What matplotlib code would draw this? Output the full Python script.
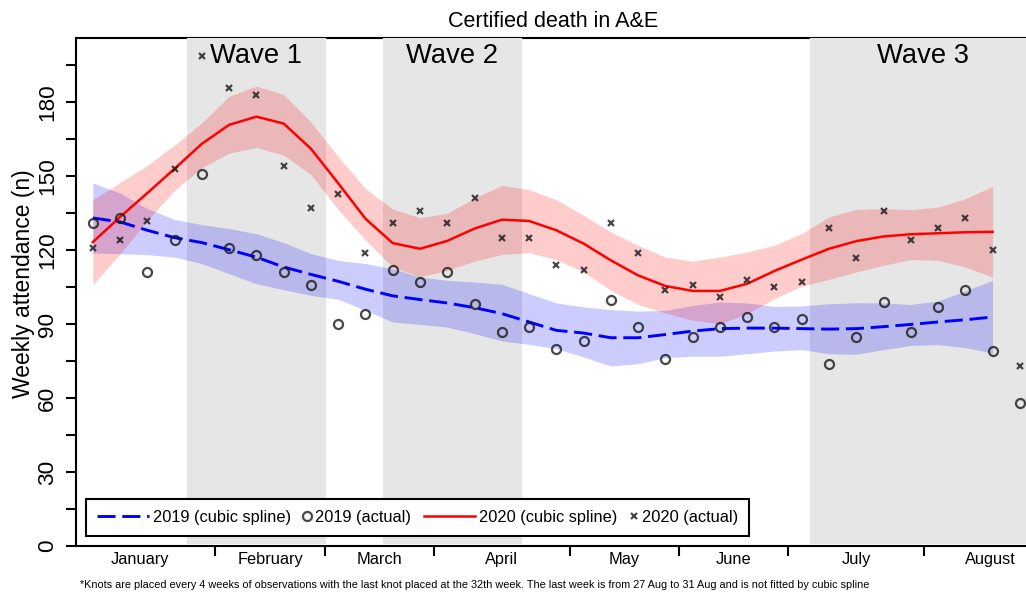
import numpy as np
import matplotlib
matplotlib.use('Agg')
import matplotlib.pyplot as plt
import matplotlib.transforms as mtransforms
from matplotlib.legend_handler import HandlerLine2D

plt.rcParams['font.family'] = ['Liberation Sans', 'DejaVu Sans']

# weekly observations, week 1 .. 35
weeks = np.arange(1, 36)
actual_2019 = [131, 133, 111, 124, 151, 121, 118, 111, 106, 90, 94, 112, 107, 111, 98, 87, 89, 80,
               83, 100, 89, 76, 85, 89, 93, 89, 92, 74, 85, 99, 87, 97, 104, 79, 58]
actual_2020 = [121, 124, 132, 153, 199, 186, 183, 154, 137, 143, 119, 131, 136, 131, 141, 125, 125, 114,
               112, 131, 119, 104, 106, 101, 108, 105, 107, 129, 117, 136, 124, 129, 133, 120, 73]

# cubic spline fit + band, weeks 1 .. 34 (last week not fitted)
fit_weeks = np.arange(1, 35)
spline_2019 = [133.1, 131.5, 128.1, 125.1, 123.1, 120.2, 117.2, 113.2, 110.2, 107.4, 104.2, 101.5,
               100.0, 98.6, 96.7, 94.3, 90.9, 87.5, 86.4, 84.5, 84.5, 85.8, 87.2, 88.2, 88.4, 88.4,
               88.2, 88.0, 88.2, 89.0, 89.9, 90.9, 91.8, 92.9]
lower_2019 = [118.9, 118.6, 118.2, 117.2, 114.6, 110.5, 106.4, 104.0, 101.7, 100.1, 95.6, 90.9,
              89.9, 88.8, 86.2, 83.2, 81.8, 80.1, 76.7, 73.0, 74.0, 76.4, 77.0, 77.0, 78.0, 79.1,
              79.7, 78.0, 77.8, 79.7, 81.4, 81.7, 80.5, 78.3]
upper_2019 = [147.3, 143.2, 136.9, 132.5, 130.4, 128.8, 126.7, 123.1, 118.6, 115.9, 114.6, 112.5,
              109.1, 107.8, 107.1, 106.2, 102.4, 98.6, 97.0, 95.9, 95.3, 95.6, 97.6, 99.0, 98.6, 97.2,
              97.4, 98.3, 98.7, 98.6, 98.0, 99.4, 103.5, 107.8]
spline_2020 = [123.3, 133.5, 143.2, 153.1, 163.2, 170.9, 174.2, 171.4, 161.2, 147.2, 132.8, 122.9,
               120.6, 123.8, 128.8, 132.4, 131.9, 128.1, 122.7, 115.9, 109.8, 105.5, 103.5, 103.5,
               106.4, 111.6, 116.2, 120.6, 123.7, 125.6, 126.5, 126.9, 127.3, 127.5]
upper_2020 = [140.5, 147.5, 154.4, 162.7, 171.7, 182.5, 186.6, 183.2, 172.0, 158.0, 145.0, 136.7,
              133.2, 135.0, 141.2, 146.3, 144.6, 140.5, 134.2, 127.4, 122.0, 117.2, 115.6, 117.2,
              119.3, 122.0, 126.8, 133.5, 136.6, 136.9, 136.5, 137.5, 140.9, 145.9]
lower_2020 = [106.0, 118.6, 132.1, 144.3, 153.5, 159.4, 161.7, 158.6, 150.7, 136.5, 124.2, 113.2,
              109.2, 111.8, 115.6, 118.3, 119.0, 116.2, 111.2, 103.7, 98.0, 94.5, 91.6, 90.2, 94.3,
              100.4, 105.4, 108.2, 111.2, 113.9, 116.2, 115.9, 113.2, 109.1]

month_labels = ['January', 'February', 'March', 'April', 'May', 'June', 'July', 'August']
month_centers = [2.74, 7.5, 11.5, 16.0, 20.5, 24.5, 29.0, 33.9]
month_edges = [5.5, 9.5, 13.5, 18.5, 22.5, 26.5, 31.5]

waves = [('Wave 1', 4.47, 9.55, 7.0), ('Wave 2', 11.65, 16.73, 14.19), ('Wave 3', 27.31, 36.0, 31.45)]

footnote = ('*Knots are placed every 4 weeks of observations with the last knot placed at the 32th week. '
            'The last week is from 27 Aug to 31 Aug and is not fitted by cubic spline')


class MarkerHandler(HandlerLine2D):
    # marker sits in the middle of a narrow handle box
    def get_xdata(self, legend, xdescent, ydescent, width, height, fontsize):
        x = 0.25 * fontsize - xdescent
        return np.array([x, x]), np.array([x])


fig = plt.figure(figsize=(10.26, 5.92), dpi=100)
ax = fig.add_axes([0.0741, 0.0777, 0.93, 0.8576])

# wave shading (covers the top spine like the original)
for name, x0, x1, xc in waves:
    ax.axvspan(x0, x1, ymin=0.004, ymax=1, color='#e6e6e6', lw=0, zorder=2.6)
    ax.text(xc, 0.9507, name, transform=mtransforms.blended_transform_factory(ax.transData, ax.transAxes),
            ha='center', va='baseline', fontsize=19.7, zorder=6)

ax.fill_between(fit_weeks, lower_2019, upper_2019, color='blue', alpha=0.2, lw=0, zorder=3)
ax.fill_between(fit_weeks, lower_2020, upper_2020, color='red', alpha=0.2, lw=0, zorder=3)

l1, = ax.plot(fit_weeks, spline_2019, color='blue', lw=2.1, ls=(0, (6.2, 2.3)), zorder=4,
              label='2019 (cubic spline)')
l3, = ax.plot(fit_weeks, spline_2020, color='red', lw=1.8, zorder=4, label='2020 (cubic spline)')
l2, = ax.plot(weeks, actual_2019, ls='none', marker='o', ms=6.5, mfc='none', mec='#1a1a1a',
              mew=1.6, alpha=0.8, zorder=4.5, label='2019 (actual)')
l4, = ax.plot(weeks, actual_2020, ls='none', marker='x', ms=4.8, mec='#1a1a1a', mew=1.6,
              alpha=0.8, zorder=4.5, label='2020 (actual)')

ax.set_xlim(0.385, 35.38)
ax.set_ylim(0, 206)

ax.set_yticks(np.arange(0, 181, 30))
ax.set_yticks(np.arange(15, 200, 30), minor=True)
ax.tick_params(axis='y', which='both', length=7.4, width=1.5, direction='out', labelsize=16.2,
               labelrotation=90, pad=5.5)
for t in ax.get_yticklabels():
    t.set_va('center')

ax.set_xticks(month_edges)
ax.set_xticklabels([])
ax.set_xticks(month_centers, minor=True)
ax.set_xticklabels(month_labels, minor=True)
ax.tick_params(axis='x', which='major', length=7.4, width=1.5, direction='out')
ax.tick_params(axis='x', which='minor', length=0, labelsize=11.8, pad=4)

for side in ['left', 'bottom', 'top']:
    ax.spines[side].set_linewidth(1.5)
    ax.spines[side].set_color('black')
ax.spines['right'].set_visible(False)

ax.set_ylabel('Weekly attendance (n)', fontsize=16.5)
ax.yaxis.set_label_coords(-0.0432, 0.516)
ax.set_title('Certified death in A&E', fontsize=15.5, pad=8)

fs = 11.8
leg = ax.legend(handles=[l1, l2, l3, l4], ncol=4, loc='lower left', bbox_to_anchor=(0.0105, 0.0197),
                borderaxespad=0, fontsize=fs, frameon=True, fancybox=False, framealpha=1,
                edgecolor='black', handlelength=3.15, handletextpad=0.25, columnspacing=0.75,
                borderpad=0.68, handler_map={l2: MarkerHandler(numpoints=1), l4: MarkerHandler(numpoints=1)})
leg.get_frame().set_linewidth(1.5)
leg.set_zorder(7)
# narrow handle boxes for the marker-only entries
for col, narrow in zip(leg._legend_handle_box.get_children(), [False, True, False, True]):
    if narrow:
        da = col.get_children()[0].get_children()[0]
        da.width = 0.5 * fs

fig.text(0.078, 0.0118, footnote, fontsize=7.8, va='center', ha='left')

fig.savefig('out.png', dpi=100)
